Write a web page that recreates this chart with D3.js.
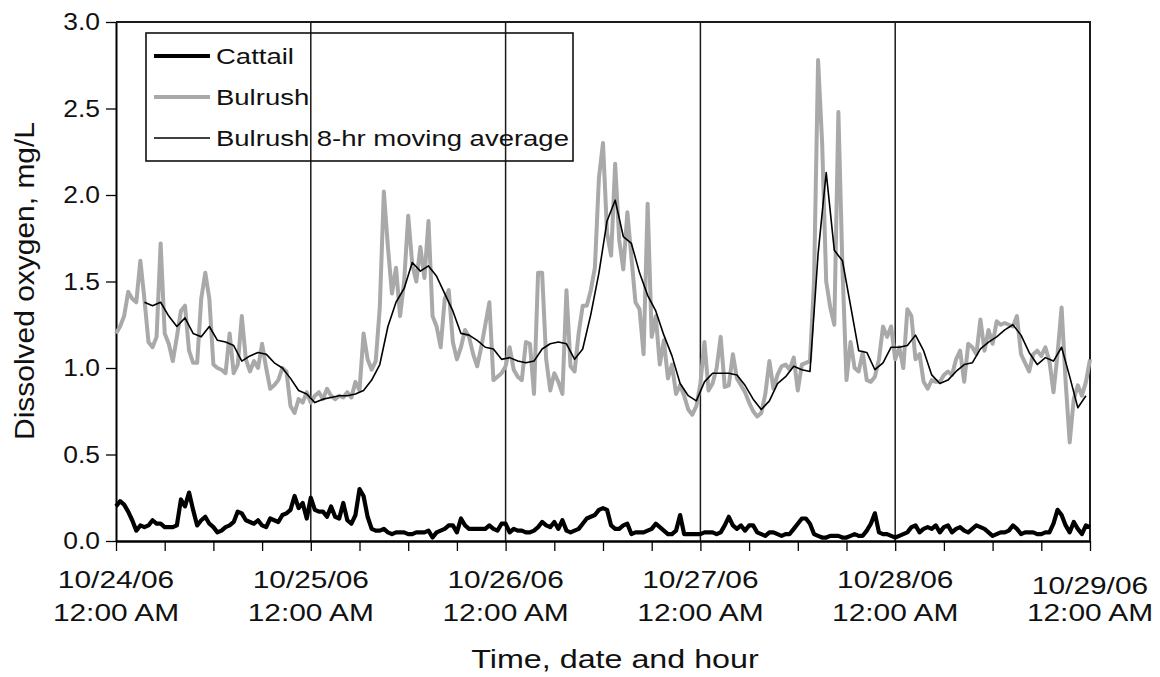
<!DOCTYPE html>
<html>
<head>
<meta charset="utf-8">
<script src="https://cdn.jsdelivr.net/npm/d3@7"></script>
<style>
  body { margin: 0; background: #fff; }
  svg text { font-family: "Liberation Sans", Arial, sans-serif; fill: #111; }
</style>
</head>
<body>
<div id="chart"></div>
<script>
// readings every 30 minutes starting 10/24/06 12:00 AM
const bulrush = [
  1.20,1.24,1.30,1.44,1.40,1.38,1.62,1.40,1.15,1.12,
  1.18,1.72,1.20,1.14,1.04,1.18,1.33,1.36,1.10,1.03,
  1.03,1.40,1.55,1.40,1.02,1.00,0.99,0.97,1.20,0.97,
  1.02,1.30,1.05,0.98,1.04,1.00,1.14,1.00,0.88,0.90,
  0.93,1.00,0.98,0.78,0.74,0.82,0.80,0.86,0.80,
  0.84,0.86,0.82,0.88,0.84,0.82,0.84,0.83,0.86,0.83,
  0.92,0.87,1.20,1.05,0.99,1.04,1.35,2.02,1.70,1.43,
  1.58,1.30,1.50,1.88,1.60,1.50,1.70,1.52,1.85,1.30,
  1.24,1.12,1.40,1.45,1.15,1.05,1.12,1.22,1.18,1.08,
  1.01,1.12,1.25,1.38,0.93,0.95,0.97,1.01,
  1.12,0.99,0.95,0.93,1.15,1.14,0.85,1.55,1.55,1.05,
  0.87,0.97,0.92,0.85,1.45,1.01,0.98,1.20,1.36,1.36,
  1.45,1.58,2.10,2.30,1.78,1.65,2.18,1.74,1.57,1.90,
  1.64,1.38,1.34,1.08,1.95,1.18,1.30,1.02,1.16,0.94,
  1.02,0.85,0.90,0.84,0.76,0.73,0.78,0.91,
  1.15,0.87,0.91,1.00,1.18,0.89,0.90,1.08,0.94,0.90,
  0.86,0.80,0.75,0.72,0.74,0.85,1.04,0.88,0.96,1.01,
  1.02,0.99,1.06,0.87,1.02,1.03,1.04,1.50,2.78,2.30,
  1.50,1.35,1.25,2.48,1.58,0.93,1.15,1.00,0.98,1.09,
  0.93,0.92,0.95,1.05,1.24,1.18,1.24,1.05,
  1.12,1.00,1.34,1.30,1.05,1.08,0.92,0.88,0.93,0.92,
  0.92,0.96,0.98,0.96,1.05,1.10,0.92,1.14,1.12,1.08,
  1.28,1.10,1.22,1.14,1.27,1.25,1.26,1.25,1.24,1.30,
  1.08,1.03,0.98,1.08,1.10,1.07,1.12,1.04,0.86,1.08,
  1.35,0.92,0.57,0.82,0.90,0.84,0.92,1.05
];

const cattail = [
  0.20,0.23,0.21,0.17,0.12,0.06,0.09,0.08,0.09,0.12,
  0.10,0.10,0.08,0.08,0.08,0.09,0.24,0.20,0.28,0.18,
  0.09,0.12,0.14,0.10,0.08,0.05,0.06,0.08,0.09,0.11,
  0.17,0.16,0.12,0.11,0.10,0.12,0.09,0.08,0.13,0.12,
  0.11,0.15,0.16,0.18,0.26,0.19,0.22,0.13,0.25,0.18,
  0.17,0.17,0.14,0.20,0.14,0.13,0.22,0.12,0.10,0.15,
  0.30,0.26,0.14,0.07,0.06,0.06,0.07,0.05,0.04,0.05,
  0.05,0.05,0.04,0.04,0.05,0.05,0.05,0.06,0.02,0.05,
  0.06,0.07,0.09,0.09,0.05,0.13,0.09,0.07,0.07,0.07,
  0.07,0.07,0.09,0.07,0.06,0.10,0.10,0.05,0.07,0.06,
  0.06,0.05,0.05,0.06,0.08,0.11,0.09,0.08,0.11,0.07,
  0.12,0.06,0.05,0.06,0.07,0.10,0.13,0.14,0.15,0.18,
  0.19,0.18,0.09,0.07,0.07,0.09,0.10,0.04,0.05,0.05,
  0.05,0.06,0.07,0.10,0.08,0.06,0.04,0.04,0.06,0.15,
  0.04,0.04,0.04,0.04,0.04,0.05,0.05,0.05,0.04,0.05,
  0.09,0.14,0.09,0.07,0.09,0.06,0.09,0.09,0.05,0.04,
  0.03,0.05,0.05,0.04,0.03,0.04,0.04,0.07,0.10,0.13,
  0.13,0.10,0.04,0.03,0.02,0.02,0.03,0.03,0.03,0.02,
  0.02,0.03,0.04,0.03,0.03,0.06,0.10,0.16,0.05,0.04,
  0.04,0.03,0.02,0.03,0.04,0.05,0.08,0.09,0.05,0.07,
  0.08,0.07,0.09,0.05,0.08,0.09,0.05,0.07,0.08,0.06,
  0.05,0.07,0.09,0.08,0.07,0.05,0.03,0.04,0.05,0.05,
  0.06,0.09,0.07,0.04,0.05,0.05,0.05,0.04,0.04,0.05,
  0.05,0.10,0.18,0.15,0.09,0.05,0.11,0.07,0.04,0.09,
  0.08
];

// 8-hr moving average, hourly, first value at 3:30 AM on 10/24
const bulrushAvg = [
  1.38,1.36,1.38,1.30,1.24,1.29,1.20,1.18,1.24,1.16,1.15,1.13,1.04,1.07,1.09,1.08,1.03,1.00,0.94,0.87,0.85,
  0.80,0.82,0.83,0.84,0.84,0.85,0.87,0.93,1.02,1.24,1.38,1.46,1.61,1.56,1.59,1.53,1.43,1.33,1.20,1.19,1.16,1.12,1.11,1.05,
  1.06,1.04,1.03,1.04,1.11,1.14,1.15,1.14,1.05,1.11,1.31,1.55,1.85,1.97,1.76,1.72,1.55,1.42,1.33,1.19,1.07,0.91,0.84,0.81,
  0.92,0.97,0.97,0.97,0.96,0.90,0.82,0.76,0.81,0.91,0.95,1.01,0.99,0.98,1.66,2.13,1.68,1.62,1.36,1.10,1.09,0.99,1.03,1.12,
  1.12,1.13,1.19,1.10,0.96,0.91,0.93,0.98,1.02,1.03,1.11,1.15,1.18,1.22,1.25,1.19,1.09,1.02,1.06,1.04,1.12,0.95,0.77,0.84
];

const yTicks = [0, 0.5, 1.0, 1.5, 2.0, 2.5, 3.0];
const seriesNames = ["Cattail", "Bulrush", "Bulrush 8-hr moving average"];

const width = 1160;
const height = 677;
const start = new Date(2006, 9, 24, 0, 0);
const end = new Date(2006, 9, 29, 0, 0);
const stretch = 1.25; // the original figure is drawn a bit wide

const svg = d3.select("#chart")
  .append("svg")
  .attr("width", width)
  .attr("height", height);

const x = d3.scaleTime().domain([start, end]).range([116, 1090]);
const y = d3.scaleLinear().domain([0, 3]).range([541, 22]);

const at = (i, stepMin, offsetMin) => d3.timeMinute.offset(start, offsetMin + i * stepMin);

function label(g, px, py, str, size, anchor, sx) {
  return g.append("text")
    .attr("transform", `translate(${px},${py}) scale(${sx},1)`)
    .attr("text-anchor", anchor)
    .style("font-size", size + "px")
    .text(str);
}

// day separators
const days = d3.timeDay.range(d3.timeDay.offset(start, 1), end);
svg.append("g")
  .selectAll("line")
  .data(days)
  .enter().append("line")
  .attr("x1", d => x(d)).attr("x2", d => x(d))
  .attr("y1", y(3)).attr("y2", y(0))
  .attr("stroke", "#1a1a1a")
  .attr("stroke-width", 1.5);

// axes
svg.append("g")
  .attr("transform", `translate(0,${y(0)})`)
  .call(d3.axisBottom(x).tickValues(d3.timeHour.every(6).range(start, d3.timeHour.offset(end, 1))).tickFormat("").tickSize(10).tickSizeOuter(0))
  .call(g => g.select(".domain").attr("stroke-width", 2.4))
  .call(g => g.selectAll(".tick line").attr("stroke-width", 1.3));

svg.append("g")
  .attr("transform", `translate(${x(start)},0)`)
  .call(d3.axisLeft(y).tickValues(yTicks).tickFormat("").tickSize(10).tickSizeOuter(0))
  .call(g => g.select(".domain").attr("stroke-width", 2))
  .call(g => g.selectAll(".tick line").attr("stroke-width", 1.3));

// top and right frame
svg.append("path")
  .attr("d", `M${x(start)},${y(3)}H${x(end)}V${y(0)}`)
  .attr("fill", "none")
  .attr("stroke", "#1a1a1a")
  .attr("stroke-width", 2);

// series
const line = d3.line().x(d => x(d.t)).y(d => y(d.v));

svg.append("path")
  .datum(bulrush.map((v, i) => ({ t: at(i, 30, 0), v })))
  .attr("d", line)
  .attr("fill", "none")
  .attr("stroke", "#a9a9a9")
  .attr("stroke-width", 4)
  .attr("stroke-linejoin", "round");

svg.append("path")
  .datum(bulrushAvg.map((v, i) => ({ t: at(i, 60, 210), v })))
  .attr("d", line)
  .attr("fill", "none")
  .attr("stroke", "#000")
  .attr("stroke-width", 1.6)
  .attr("stroke-linejoin", "round");

svg.append("path")
  .datum(cattail.map((v, i) => ({ t: at(i, 30, 0), v })))
  .attr("d", line)
  .attr("fill", "none")
  .attr("stroke", "#000")
  .attr("stroke-width", 4.2)
  .attr("stroke-linejoin", "round");

// tick labels
const labels = svg.append("g");
yTicks.forEach(v => label(labels, 100, y(v) + 8, d3.format(".1f")(v), 23, "end", 1.15));

const fmtDate = d3.timeFormat("%m/%d/%y");
d3.timeDay.range(start, d3.timeDay.offset(end, 1)).forEach((d, i, arr) => {
  const last = i === arr.length - 1;
  label(labels, x(d), last ? 594 : 588, fmtDate(d), 23, "middle", 1.3);
  label(labels, x(d), 621, "12:00 AM", 23, "middle", 1.3);
});

label(labels, 615, 668, "Time, date and hour", 25, "middle", 1.29);

labels.append("text")
  .attr("transform", "translate(34,281) rotate(-90) scale(1.07,1)")
  .attr("text-anchor", "middle")
  .style("font-size", "28px")
  .text("Dissolved oxygen, mg/L");

// legend
const legend = svg.append("g");
legend.append("rect")
  .attr("x", 146).attr("y", 33)
  .attr("width", 427).attr("height", 128)
  .attr("fill", "none")
  .attr("stroke", "#111")
  .attr("stroke-width", 1.6);

const legendStyle = [
  { stroke: "#000", w: 4.2 },
  { stroke: "#a9a9a9", w: 4 },
  { stroke: "#000", w: 1.6 }
];
const rowY = [56, 97, 138];
seriesNames.forEach((name, i) => {
  legend.append("line")
    .attr("x1", 154).attr("x2", 210)
    .attr("y1", rowY[i]).attr("y2", rowY[i])
    .attr("stroke", legendStyle[i].stroke)
    .attr("stroke-width", legendStyle[i].w);
  label(legend, 216, rowY[i] + 8, name, 22, "start", stretch);
});
</script>
</body>
</html>
